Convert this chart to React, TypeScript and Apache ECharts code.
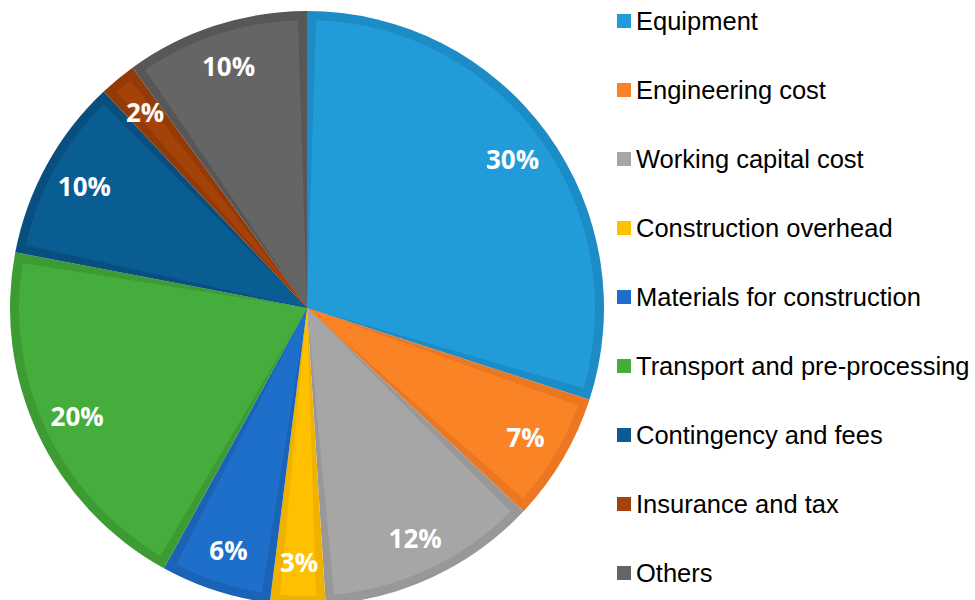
import React, { useEffect, useRef } from "react";
import * as echarts from "echarts";

const categories = [
  "Equipment",
  "Engineering cost",
  "Working capital cost",
  "Construction overhead",
  "Materials for construction",
  "Transport and pre-processing",
  "Contingency and fees",
  "Insurance and tax",
  "Others",
];
const values = [30, 7, 12, 3, 6, 20, 10, 2, 10];
const fillColors = [
  "#229CD8",
  "#FA8326",
  "#A6A6A6",
  "#FFC000",
  "#1E6FCA",
  "#45AD3B",
  "#0A5D92",
  "#A5420A",
  "#656565",
];
const edgeColors = [
  "#1C8CC6",
  "#EB7722",
  "#989898",
  "#EFB200",
  "#1A63B7",
  "#3C9C33",
  "#084F80",
  "#933A07",
  "#575757",
];

export default function App() {
  const ref = useRef<HTMLDivElement>(null);
  useEffect(() => {
    if (!ref.current) return;
    const chart = echarts.init(ref.current, undefined, { renderer: "svg" });
    const center = [307, 308];
    chart.setOption({
      animation: false,
      legend: {
        orient: "vertical",
        left: 617,
        top: 8,
        padding: 0,
        itemWidth: 14,
        itemHeight: 14,
        itemGap: 43,
        icon: "rect",
        selectedMode: false,
        textStyle: {
          fontFamily: "Liberation Sans, Arial, sans-serif",
          fontSize: 25.5,
          lineHeight: 25,
          color: "#000",
        },
        data: categories.map((c, i) => ({
          name: c,
          itemStyle: { color: fillColors[i], borderWidth: 0 },
        })),
      },
      series: [
        {
          type: "pie",
          center,
          radius: [0, 297],
          startAngle: 90,
          clockwise: true,
          silent: true,
          label: { show: false },
          labelLine: { show: false },
          data: categories.map((c, i) => ({
            name: c,
            value: values[i],
            itemStyle: { color: edgeColors[i], borderWidth: 0 },
          })),
        },
        {
          type: "pie",
          center,
          radius: [0, 288],
          startAngle: 90,
          clockwise: true,
          padAngle: 3.6,
          silent: true,
          label: { show: false },
          labelLine: { show: false },
          data: categories.map((c, i) => ({
            name: c,
            value: values[i],
            itemStyle: { color: fillColors[i], borderWidth: 0 },
          })),
        },
        {
          type: "pie",
          center,
          radius: [205, 297],
          startAngle: 90,
          clockwise: true,
          silent: true,
          itemStyle: { color: "rgba(0,0,0,0)", borderWidth: 0 },
          label: {
            show: true,
            position: "inside",
            formatter: "{c}%",
            color: "#fff",
            fontFamily: "Open Sans, sans-serif",
            fontWeight: "bold",
            fontSize: 26,
          },
          labelLine: { show: false },
          data: categories.map((c, i) => ({ name: c, value: values[i] })),
        },
      ],
    });
    return () => chart.dispose();
  }, []);
  return (
    <div
      ref={ref}
      style={{ position: "fixed", left: 0, top: 0, width: 975, height: 600, background: "#fff" }}
    />
  );
}
